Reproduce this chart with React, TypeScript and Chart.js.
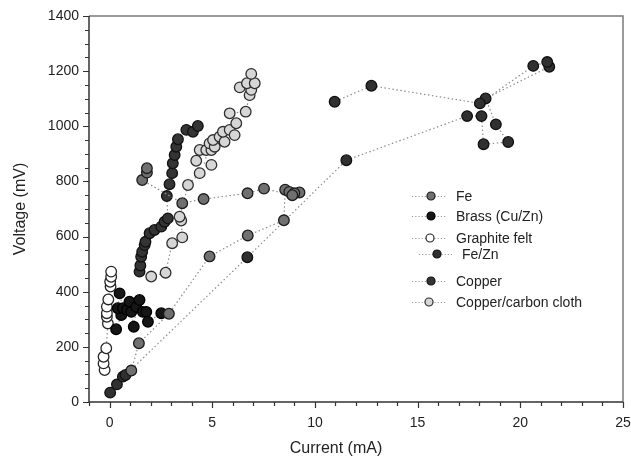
import React, { useEffect, useRef } from "react";
import { Chart, registerables } from "chart.js";

Chart.register(...registerables);

// ---- data: [current (mA), voltage (mV)] ----
const feData: number[][] = [
  [1.06, 114], [1.43, 213], [2.89, 320], [4.87, 528], [6.73, 604], [8.49, 659],
  [8.55, 770], [8.75, 762], [9.25, 760], [9.0, 757], [8.9, 750], [7.52, 774],
  [6.72, 757], [4.58, 736], [3.54, 721], [1.59, 805], [1.82, 832], [1.82, 848],
];
const brassData: number[][] = [
  [0.32, 264], [0.57, 315], [0.4, 340], [0.49, 394], [0.65, 340], [0.85, 335],
  [0.97, 364], [1.06, 327], [1.18, 273], [1.3, 345], [1.46, 370], [1.62, 327],
  [1.79, 327], [1.87, 291], [2.52, 322],
];
const graphiteFeltData: number[][] = [
  [-0.24, 116], [-0.29, 140], [-0.29, 164], [-0.16, 195], [-0.08, 285],
  [-0.13, 309], [-0.13, 322], [-0.13, 346], [-0.06, 372], [0.05, 419],
  [0.03, 436], [0.08, 454], [0.08, 473],
];
const feZnData: number[][] = [
  [0.03, 34], [0.36, 64], [0.65, 92], [0.78, 98], [6.71, 525], [11.53, 877],
  [17.41, 1037], [18.11, 1037], [18.21, 935], [19.41, 943], [18.81, 1007],
  [18.31, 1101], [21.41, 1216], [21.31, 1233], [20.63, 1219], [18.03, 1083],
  [12.75, 1147], [10.96, 1089],
];
const copperData: number[][] = [
  [1.46, 473], [1.5, 495], [1.54, 527], [1.59, 545], [1.71, 569], [1.75, 581],
  [1.95, 612], [2.19, 624], [2.52, 636], [2.68, 654], [2.84, 666], [2.79, 747],
  [2.92, 790], [3.05, 830], [3.08, 866], [3.17, 896], [3.25, 926], [3.33, 953],
  [3.74, 987], [4.06, 980], [4.3, 1001],
];
const copperCarbonData: number[][] = [
  [2.03, 455], [2.73, 469], [3.05, 576], [3.54, 597], [3.49, 658], [3.41, 672],
  [3.82, 787], [4.39, 830], [4.22, 875], [4.96, 860], [4.39, 914], [4.71, 914],
  [4.96, 914], [4.87, 938], [5.12, 926], [5.04, 950], [5.36, 962], [5.6, 944],
  [5.52, 980], [5.85, 987], [6.09, 968], [6.17, 1011], [5.85, 1047], [6.63, 1053],
  [6.82, 1113], [6.9, 1132], [6.34, 1141], [6.69, 1156], [7.07, 1156], [6.9, 1190],
];

const SERIES_NAMES = ["Fe", "Brass (Cu/Zn)", "Graphite felt", "Fe/Zn", "Copper", "Copper/carbon cloth"];
const X_TICKS = [0, 5, 10, 15, 20, 25];
const Y_TICKS = [0, 200, 400, 600, 800, 1000, 1200, 1400];
const X_TITLE = "Current (mA)";
const Y_TITLE = "Voltage (mV)";

const FONT = '"Liberation Sans", Arial, Helvetica, sans-serif';

const STYLES = [
  { fill: "#707070", stroke: "#1c1c1c" },
  { fill: "#161616", stroke: "#000000" },
  { fill: "#ffffff", stroke: "#262626" },
  { fill: "#303030", stroke: "#101010" },
  { fill: "#343434", stroke: "#111111" },
  { fill: "#d6d6d6", stroke: "#2e2e2e" },
];

// legend layout (pixels): marker centre, line ends, text start
const LEGEND_LAYOUT = [
  { mx: 431, my: 196, l0: 412, l1: 446, tx: 456 },
  { mx: 431, my: 216, l0: 412, l1: 446, tx: 456 },
  { mx: 430, my: 238, l0: 412, l1: 446, tx: 456 },
  { mx: 437, my: 254, l0: 419, l1: 452, tx: 462 },
  { mx: 431, my: 281, l0: 412, l1: 446, tx: 456 },
  { mx: 429, my: 302, l0: 412, l1: 446, tx: 456 },
];

export default function App() {
  const ref = useRef<HTMLCanvasElement>(null);

  useEffect(() => {
    if (!ref.current) return;
    const all = [feData, brassData, graphiteFeltData, feZnData, copperData, copperCarbonData];
    const datasets = all.map((d, i) => ({
      label: SERIES_NAMES[i],
      data: d.map(([x, y]) => ({ x, y })),
      showLine: true,
      borderColor: "#8e8e8e",
      borderWidth: 1.2,
      borderDash: [1.5, 2.5],
      backgroundColor: STYLES[i].fill,
      pointBackgroundColor: STYLES[i].fill,
      pointBorderColor: STYLES[i].stroke,
      pointBorderWidth: 1.3,
      pointRadius: 5.3,
      tension: 0,
    }));

    const framePlugin = {
      id: "frame",
      afterDraw(chart: any) {
        const { ctx, chartArea: a, scales } = chart;
        const xs = scales.x;
        const ys = scales.y;
        ctx.save();
        // top/right frame (gray)
        ctx.strokeStyle = "#7a7a7a";
        ctx.lineWidth = 1.5;
        ctx.beginPath();
        ctx.moveTo(a.left, a.top);
        ctx.lineTo(a.right, a.top);
        ctx.lineTo(a.right, a.bottom);
        ctx.stroke();
        // axes
        ctx.strokeStyle = "#333";
        ctx.beginPath();
        ctx.moveTo(a.left, a.top);
        ctx.lineTo(a.left, a.bottom);
        ctx.lineTo(a.right, a.bottom);
        ctx.stroke();
        // ticks
        ctx.lineWidth = 1.2;
        ctx.beginPath();
        for (let v = -1; v <= 25; v += 1) {
          const px = Math.round(xs.getPixelForValue(v)) + 0.5;
          const len = v % 5 === 0 ? 6 : 4;
          ctx.moveTo(px, a.bottom);
          ctx.lineTo(px, a.bottom + len);
        }
        for (let v = 0; v <= 1400; v += 50) {
          const py = Math.round(ys.getPixelForValue(v)) + 0.5;
          const len = v % 200 === 0 ? 6 : 4;
          ctx.moveTo(a.left, py);
          ctx.lineTo(a.left - len, py);
        }
        ctx.stroke();
        // axis titles
        ctx.fillStyle = "#222";
        ctx.font = `16px ${FONT}`;
        ctx.textAlign = "center";
        ctx.textBaseline = "middle";
        ctx.fillText(X_TITLE, 336, 449);
        ctx.save();
        ctx.translate(21, 209);
        ctx.rotate(-Math.PI / 2);
        ctx.fillText(Y_TITLE, 0, 0);
        ctx.restore();
        // legend
        ctx.font = `14px ${FONT}`;
        ctx.textAlign = "left";
        LEGEND_LAYOUT.forEach((L, i) => {
          ctx.strokeStyle = "#9a9a9a";
          ctx.lineWidth = 1;
          ctx.setLineDash([1.2, 2]);
          ctx.beginPath();
          ctx.moveTo(L.l0, L.my + 0.5);
          ctx.lineTo(L.l1, L.my + 0.5);
          ctx.stroke();
          ctx.setLineDash([]);
          ctx.beginPath();
          ctx.arc(L.mx, L.my, 4, 0, Math.PI * 2);
          ctx.fillStyle = STYLES[i].fill;
          ctx.fill();
          ctx.lineWidth = 1.2;
          ctx.strokeStyle = STYLES[i].stroke;
          ctx.stroke();
          ctx.fillStyle = "#222";
          ctx.fillText(SERIES_NAMES[i], L.tx, L.my + 1);
        });
        ctx.restore();
      },
    };

    const chart = new Chart(ref.current, {
      type: "scatter",
      data: { datasets },
      options: {
        animation: false,
        responsive: false,
        maintainAspectRatio: false,
        layout: { padding: { top: 16, right: 8, left: 0, bottom: 0 } },
        plugins: { legend: { display: false }, tooltip: { enabled: false } },
        scales: {
          x: {
            type: "linear",
            min: -1,
            max: 25,
            afterBuildTicks: (s: any) => {
              s.ticks = X_TICKS.map((v) => ({ value: v }));
            },
            afterFit: (s: any) => {
              s.height = 62;
              s.paddingLeft = 0;
              s.paddingRight = 0;
            },
            grid: { display: false, drawTicks: false },
            border: { display: false },
            ticks: {
              padding: 13,
              color: "#222",
              font: { family: FONT, size: 14 },
              maxRotation: 0,
              autoSkip: false,
              callback: (v: any) => String(v),
            },
          },
          y: {
            type: "linear",
            min: 0,
            max: 1400,
            afterBuildTicks: (s: any) => {
              s.ticks = Y_TICKS.map((v) => ({ value: v }));
            },
            afterFit: (s: any) => {
              s.width = 89;
              s.paddingTop = 0;
              s.paddingBottom = 0;
            },
            grid: { display: false, drawTicks: false },
            border: { display: false },
            ticks: {
              padding: 10,
              color: "#222",
              font: { family: FONT, size: 14 },
              autoSkip: false,
              callback: (v: any) => String(v),
            },
          },
        },
      },
      plugins: [framePlugin],
    } as any);
    return () => chart.destroy();
  }, []);

  return (
    <div style={{ position: "absolute", left: 0, top: 0, width: 631, height: 464, background: "#fff" }}>
      <canvas ref={ref} width={631} height={464} style={{ display: "block" }} />
    </div>
  );
}
